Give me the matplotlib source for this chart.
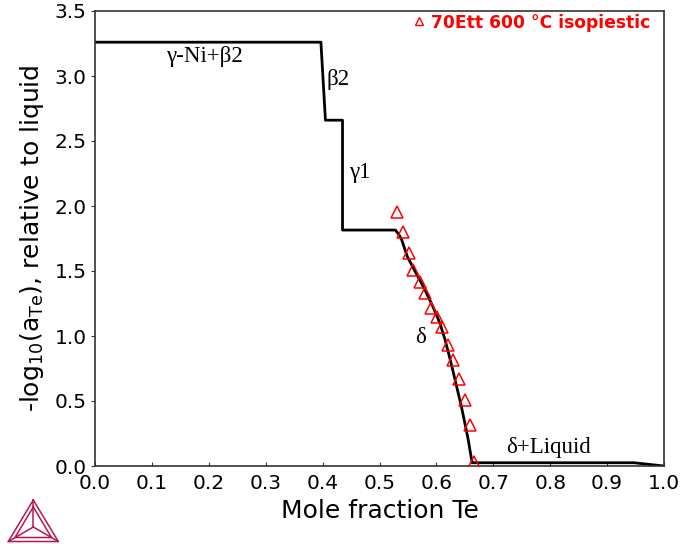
import matplotlib
matplotlib.use("Agg")
import matplotlib.pyplot as plt
from matplotlib.lines import Line2D

# Calculated activity curve (mole fraction Te, -log10(a_Te))
calc_x = [0.0, 0.397, 0.405, 0.435, 0.435, 0.528, 0.534, 0.539, 0.549, 0.564,
          0.580, 0.594, 0.606, 0.615, 0.623, 0.630, 0.637, 0.644, 0.650, 0.656,
          0.661, 0.663, 0.947, 1.0]
calc_y = [3.26, 3.26, 2.66, 2.66, 1.815, 1.815, 1.78, 1.74, 1.61, 1.485,
          1.354, 1.225, 1.10, 0.975, 0.84, 0.715, 0.585, 0.455, 0.33, 0.20,
          0.07, 0.025, 0.025, 0.0]

# Experimental points: 70Ett 600 °C isopiestic
exp_x = [0.530, 0.542, 0.551, 0.559, 0.571, 0.580, 0.591, 0.601, 0.610,
         0.621, 0.630, 0.640, 0.650, 0.659, 0.666]
exp_y = [1.956, 1.80, 1.636, 1.51, 1.418, 1.328, 1.213, 1.144, 1.072,
         0.93, 0.815, 0.667, 0.508, 0.315, 0.033]

phase_labels = ["γ-Ni+β2", "β2", "γ1", "δ", "δ+Liquid"]
phase_x = [0.193, 0.427, 0.465, 0.572, 0.797]
phase_y = [3.15, 2.97, 2.26, 0.99, 0.146]

legend_label = "70Ett 600 °C isopiestic"
xticks = [0.0, 0.1, 0.2, 0.3, 0.4, 0.5, 0.6, 0.7, 0.8, 0.9, 1.0]
yticks = [0.0, 0.5, 1.0, 1.5, 2.0, 2.5, 3.0, 3.5]

plt.rcParams['mathtext.default'] = 'regular'
fig = plt.figure(figsize=(6.85, 5.44), dpi=100)
ax = fig.add_axes([95/685, 1-466/544, (664-95)/685, (466-11)/544])

ax.plot(calc_x, calc_y, color='black', lw=2.0, zorder=2)
ax.plot(exp_x, exp_y, linestyle='none', marker='^', markersize=8.5,
        markerfacecolor='none', markeredgecolor='red', markeredgewidth=1.1, zorder=3)

for t, x, y in zip(phase_labels, phase_x, phase_y):
    ax.text(x, y, t, fontsize=16.5, family='Liberation Serif', ha='center', va='center',
            color='black')

ax.set_xlim(0, 1.0)
ax.set_ylim(0, 3.5)
ax.set_xticks(xticks)
ax.set_yticks(yticks)
ax.set_xticklabels([f"{v:.1f}" for v in xticks])
ax.set_yticklabels([f"{v:.1f}" for v in yticks])
ax.tick_params(axis='x', direction='in', length=3, labelsize=14.5, pad=6, color='#333333')
ax.tick_params(axis='y', direction='out', length=3, labelsize=14.5, pad=3, color='#333333')
for s in ax.spines.values():
    s.set_color('#333333')
    s.set_linewidth(1.2)

ax.set_xlabel("Mole fraction Te", fontsize=18, labelpad=4)
ax.set_ylabel(r"-log$_{10}$(a$_{Te}$), relative to liquid", fontsize=18, labelpad=6)

# legend entry
ax.plot([0.569], [3.42], linestyle='none', marker='^', markersize=6,
        markerfacecolor='none', markeredgecolor='red', markeredgewidth=1.0,
        clip_on=False)
ax.text(0.5905, 3.41, legend_label, color='red', fontsize=12.3, fontweight='bold',
        ha='left', va='center')

# logo (Thermo-Calc style triangle)
c = '#b5174a'
def L(xs, ys):
    fig.add_artist(Line2D([x/685 for x in xs], [1-y/544 for y in ys],
                          transform=fig.transFigure, color=c, lw=1.1))
A, B, C = (33.3, 500), (8.3, 541.5), (58.3, 541.5)
G = (33.3, 527)
L([A[0], B[0], C[0], A[0]], [A[1], B[1], C[1], A[1]])
a2, b2, c2 = (33.3, 507), (15, 537.5), (51.5, 537.5)
L([a2[0], b2[0], c2[0], a2[0]], [a2[1], b2[1], c2[1], a2[1]])
for P in (A, B, C):
    L([P[0], G[0]], [P[1], G[1]])

fig.savefig("out.png", dpi=100)
